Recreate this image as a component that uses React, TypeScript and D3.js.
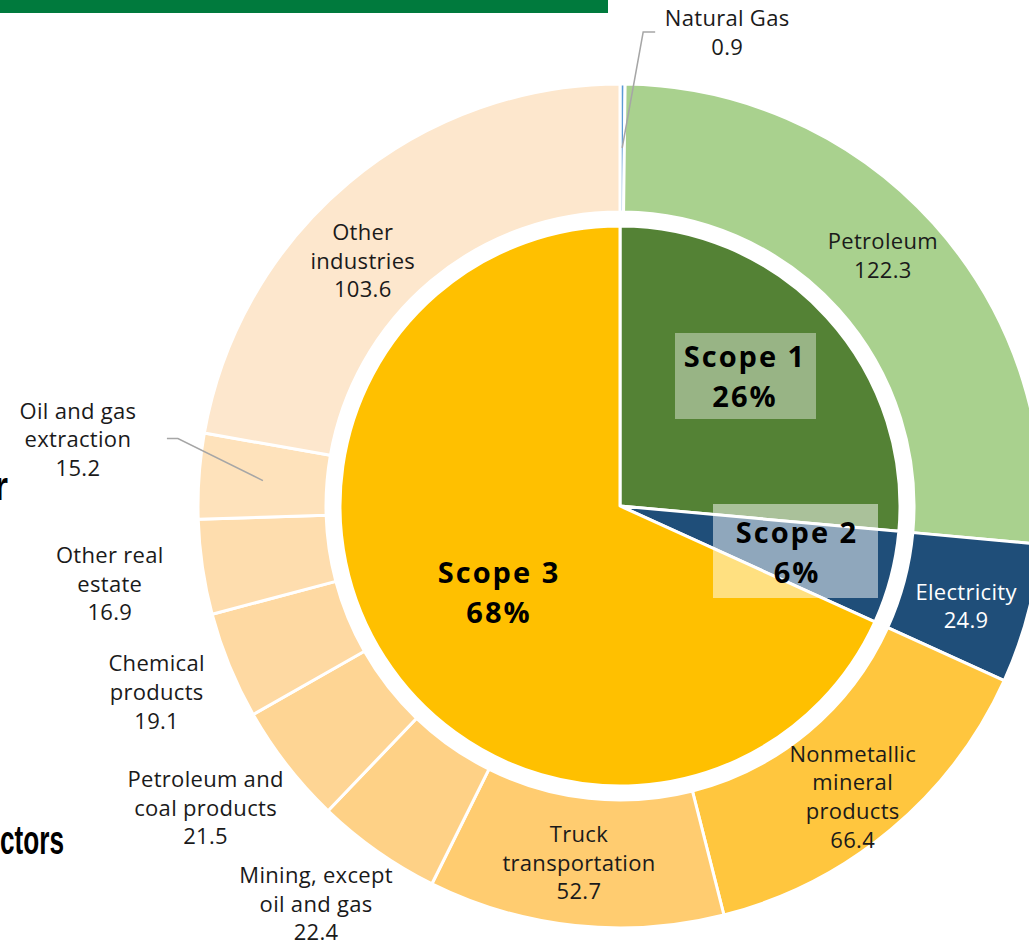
import React from 'react';
import * as d3 from 'd3';

// ---------- data ----------
const scopeNames = ['Scope 1', 'Scope 2', 'Scope 3'];
const scopePercents = ['26%', '6%', '68%'];

const sectorNames = [
  'Natural Gas', 'Petroleum', 'Electricity', 'Nonmetallic mineral products',
  'Truck transportation', 'Mining, except oil and gas', 'Petroleum and coal products',
  'Chemical products', 'Other real estate', 'Oil and gas extraction', 'Other industries',
];
const sectorLabelLines = [
  ['Natural Gas'], ['Petroleum'], ['Electricity'], ['Nonmetallic', 'mineral', 'products'],
  ['Truck', 'transportation'], ['Mining, except', 'oil and gas'], ['Petroleum and', 'coal products'],
  ['Chemical', 'products'], ['Other real', 'estate'], ['Oil and gas', 'extraction'], ['Other', 'industries'],
];
const sectorValues = [0.9, 122.3, 24.9, 66.4, 52.7, 22.4, 21.5, 19.1, 16.9, 15.2, 103.6];
const sectorScope = [0, 0, 1, 2, 2, 2, 2, 2, 2, 2, 2];

// ---------- styles ----------
const scopeColors = ['#548235', '#1F4E79', '#FFC000'];
const sectorColors = [
  '#5B9BD5', '#A9D18E', '#1F4E79', '#FFC63E', '#FFCC70', '#FED186',
  '#FED594', '#FED9A2', '#FEDDAE', '#FEE2BB', '#FDE7CD',
];
const sectorTextColors = ['#1a1a1a', '#1a1a1a', '#fff', '#1a1a1a', '#1a1a1a', '#1a1a1a', '#1a1a1a', '#1a1a1a', '#1a1a1a', '#1a1a1a', '#1a1a1a'];
// label offset (first baseline) relative to arc centroid
const sectorLabelOffsets: [number, number][] = [
  [105, -122], [-3, -17], [0, 2], [3, -19], [-3, -20], [-98, 84],
  [-132, 61], [-132, 30], [-156, 5], [-185, -62], [-27, 8],
];
// leader lines (relative to label anchor), null when none
const sectorLeaders: ([number, number][] | null)[] = [
  [[-84, 6], [-72, 6]], null, null, null, null, null, null, null, null,
  [[100, 20], [89, 20]], null,
];
// scope label offsets relative to pie center, and box (relative to text anchor)
const scopeLabelOffsets: [number, number][] = [[124, -139], [176, 37], [-122, 77]];
const scopeBoxes: ([number, number, number, number, number] | null)[] = [
  [-69, -34, 141, 86, 0.4],
  [-83, -39, 165, 94, 0.5],
  null,
];

const W = 1029;
const H = 944;
const CX = 620;
const CY = 506;
const R_IN = 280;
const R_OUT_IN = 294;
const R_OUT = 422;
const LINE_H = 28.7;

export default function App() {
  const scopeValues = scopeNames.map((_, i) =>
    d3.sum(sectorValues.filter((_, j) => sectorScope[j] === i))
  );

  const pie = d3.pie<number>().sort(null).value((d) => d).startAngle(0).endAngle(2 * Math.PI);
  const innerArcs = pie(scopeValues);
  const outerArcs = pie(sectorValues);

  const innerArc = d3.arc<d3.PieArcDatum<number>>().innerRadius(0).outerRadius(R_IN);
  const outerArc = d3.arc<d3.PieArcDatum<number>>().innerRadius(R_OUT_IN).outerRadius(R_OUT);
  const fmt = d3.format('.1f');

  return (
    <svg
      width={W}
      height={H}
      style={{ position: 'absolute', left: 0, top: 0, background: '#fff' }}
      fontFamily="'Open Sans', sans-serif"
    >
      <rect x={0} y={0} width={608} height={13} fill="#007A3D" />
      <text x={-6} y={500} fontFamily="'Liberation Sans', Arial, sans-serif" fontWeight="bold" fontSize={40} textLength={14} lengthAdjust="spacingAndGlyphs">r</text>
      <text x={0} y={854} fontFamily="'Liberation Sans', Arial, sans-serif" fontWeight="bold" fontSize={40} textLength={64} lengthAdjust="spacingAndGlyphs">ctors</text>

      <g transform={`translate(${CX},${CY})`}>
        {outerArcs.map((a, i) => (
          <path key={'o' + i} d={outerArc(a) || ''} fill={sectorColors[i]} stroke="#fff" strokeWidth={3} strokeLinejoin="round" />
        ))}
        {innerArcs.map((a, i) => (
          <path key={'i' + i} d={innerArc(a) || ''} fill={scopeColors[i]} stroke="#fff" strokeWidth={3} strokeLinejoin="round" />
        ))}

        {outerArcs.map((a, i) => {
          const [cx, cy] = outerArc.centroid(a);
          const lx = cx + sectorLabelOffsets[i][0];
          const ly = cy + sectorLabelOffsets[i][1];
          const lines = [...sectorLabelLines[i], fmt(sectorValues[i])];
          const leader = sectorLeaders[i];
          return (
            <g key={'l' + i}>
              {leader && (
                <polyline
                  points={[[cx, cy], ...leader.map(([dx, dy]) => [lx + dx, ly + dy])].map((p) => p.join(',')).join(' ')}
                  fill="none"
                  stroke="#A6A6A6"
                  strokeWidth={1.5}
                />
              )}
              <text x={lx} y={ly} textAnchor="middle" fontSize={22} letterSpacing={0.3} fill={sectorTextColors[i]}>
                {lines.map((t, k) => (
                  <tspan key={k} x={lx} y={ly + k * LINE_H}>{t}</tspan>
                ))}
              </text>
            </g>
          );
        })}

        {scopeNames.map((name, i) => {
          const [tx, ty] = scopeLabelOffsets[i];
          const box = scopeBoxes[i];
          return (
            <g key={'s' + i}>
              {box && (
                <rect x={tx + box[0]} y={ty + box[1]} width={box[2]} height={box[3]} fill="#fff" fillOpacity={box[4]} />
              )}
              <text x={tx} y={ty} textAnchor="middle" fontSize={29} fontWeight="bold" fill="#000" letterSpacing={2}>
                <tspan x={tx + 1} y={ty}>{name}</tspan>
                <tspan x={tx + 1} y={ty + 40}>{scopePercents[i]}</tspan>
              </text>
            </g>
          );
        })}
      </g>
    </svg>
  );
}
